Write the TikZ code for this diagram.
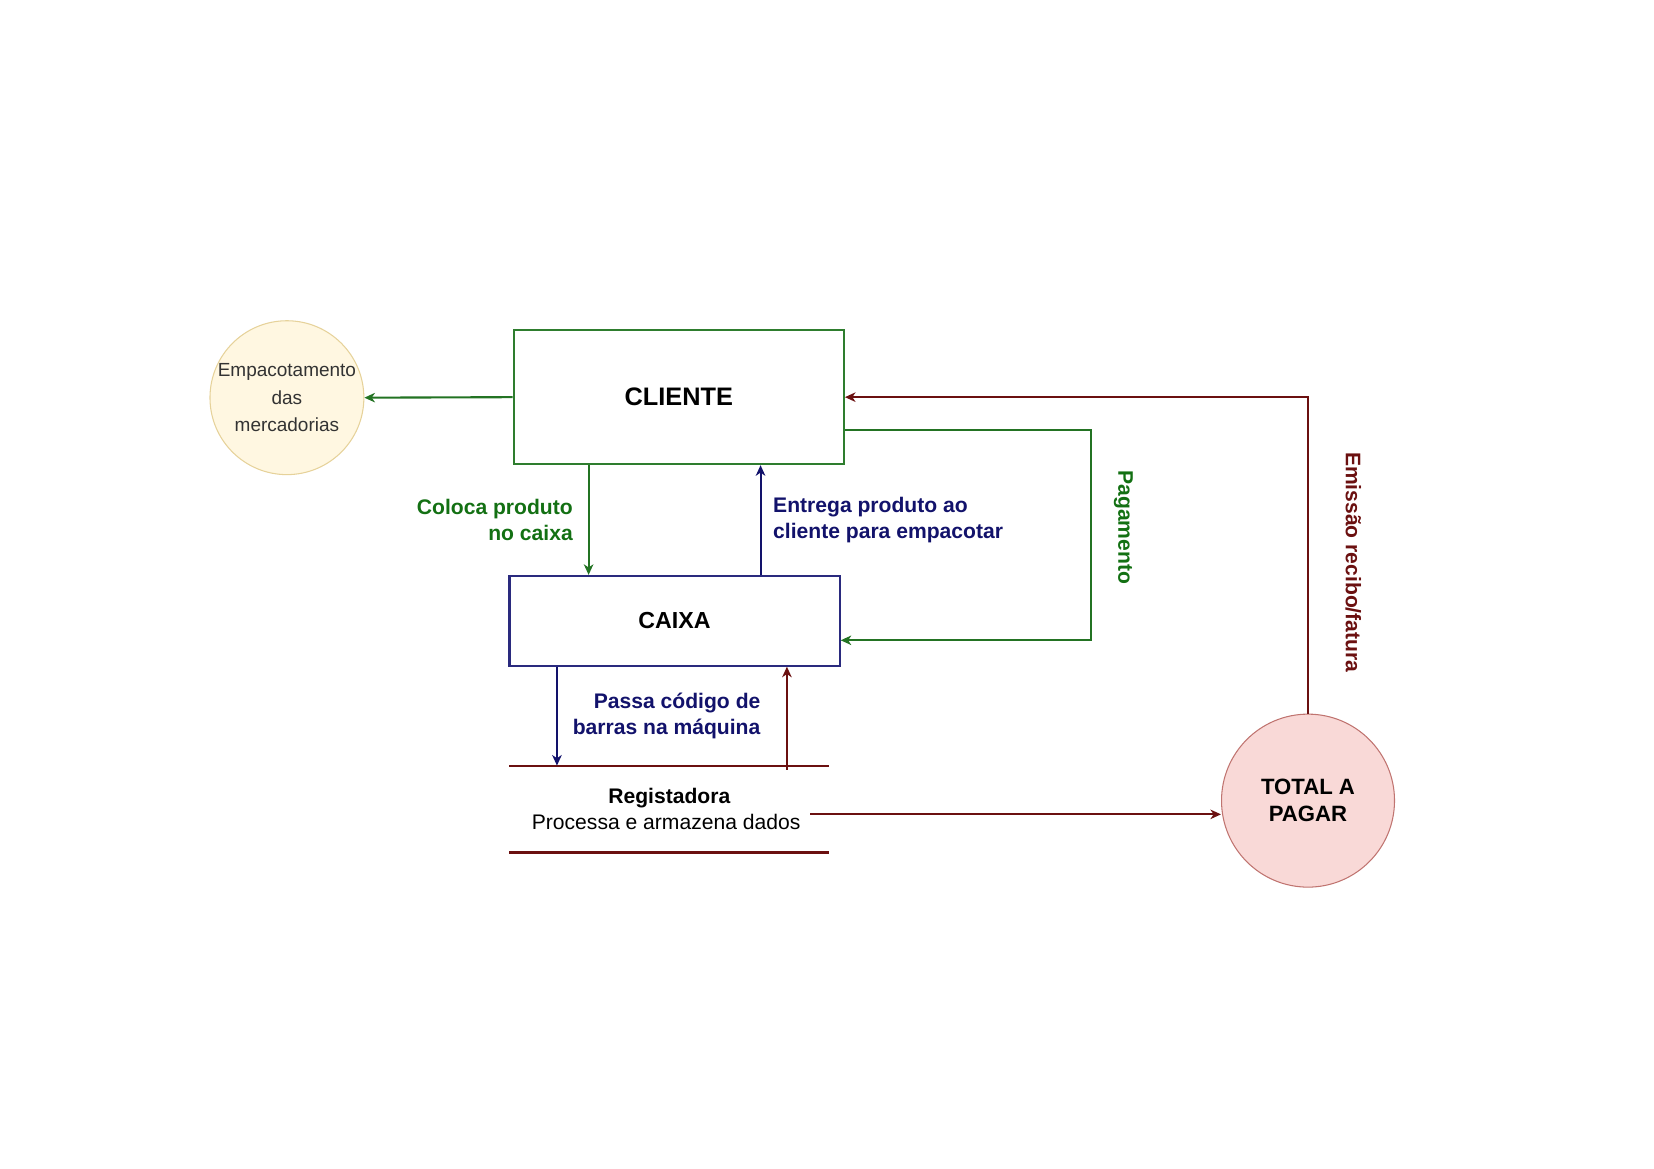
\documentclass[tikz,border=0pt]{standalone}
\usepackage{fontspec}
\setmainfont{Liberation Sans}
\usetikzlibrary{arrows.meta,positioning}
\definecolor{boxgreen}{HTML}{2E7D2E}
\definecolor{flowgreen}{HTML}{237323}
\definecolor{textgreen}{HTML}{137013}
\definecolor{boxnavy}{HTML}{2A2A7E}
\definecolor{textnavy}{HTML}{12126B}
\definecolor{darkred}{HTML}{6B1010}
\definecolor{empfill}{HTML}{FFF7E1}
\definecolor{empline}{HTML}{E6D29A}
\definecolor{emptext}{HTML}{333333}
\definecolor{totfill}{HTML}{F9D9D7}
\definecolor{totline}{HTML}{C07470}

\begin{document}
\begin{tikzpicture}[x=1pt,y=-1pt,
    box/.style={draw, line width=2pt, inner sep=0pt, minimum width=313pt},
    bubble/.style={circle, draw, line width=1pt, inner sep=0pt, align=center},
    flow/.style={line width=2pt, -{Stealth[length=10pt,width=9pt,inset=3pt]}},
    lbl/.style={inner sep=0pt, font=\fontsize{20}{25}\selectfont\bfseries}]
  \useasboundingbox (0,0) rectangle (1568,1108.2);

  \node[box, boxgreen, minimum height=127pt, text=black,
        font=\fontsize{24}{29}\selectfont\bfseries] (cliente) at (643.5,376.5) {CLIENTE};
  \node[box, boxnavy, minimum height=85pt, text=black,
        font=\fontsize{22}{26}\selectfont\bfseries] (caixa) at (639.5,588.5) {CAIXA};
  \node[bubble, fill=empfill, draw=empline, minimum size=144pt, text=emptext,
        font=\fontsize{18}{26}\selectfont] (emp) at (272,377) {Empacotamento\\das\\mercadorias};
  \node[bubble, fill=totfill, draw=totline, minimum size=164pt,
        font=\fontsize{21}{26}\selectfont\bfseries] (total) at (1240,759) {TOTAL A\\PAGAR};
  \node[minimum width=303pt, minimum height=82pt, inner sep=0pt, align=center,
        font=\fontsize{20}{25}\selectfont] (reg) at (634.5,767) {{\bfseries Registadora}\\Processa e armazena dados\hspace*{6pt}};
  \draw[darkred, line width=2pt] (reg.north west) -- (reg.north east);
  \draw[darkred, line width=2pt] (reg.south west) -- (reg.south east);

  % cliente <-> caixa
  \draw[flow, flowgreen] (cliente.west) -- (emp.east);
  \draw[flow, flowgreen] ([xshift=-81.5pt]caixa.north |- cliente.south) -- ([xshift=-81.5pt]caixa.north)
    node[midway, left=14pt, lbl, textgreen, align=right] {Coloca produto\\no caixa};
  \draw[flow, textnavy] ([xshift=81.5pt]caixa.north) -- ([xshift=81.5pt]caixa.north |- cliente.south)
    node[midway, right=11pt, lbl, textnavy, align=left] {Entrega produto ao\\cliente para empacotar};
  \draw[flow, flowgreen] ([yshift=-31.5pt]cliente.east) -- ++(233,0) |- ([yshift=-18.5pt]caixa.east);
  \node[lbl, textgreen, rotate=-90] (paglbl) at (1065,500) {Pagamento};

  % caixa <-> registadora
  \draw[flow, textnavy] ([xshift=-111.5pt]caixa.south) -- ([xshift=-111.5pt]caixa.south |- reg.north)
    node[midway, right=14pt, lbl, textnavy, align=right] {Passa código de\\barras na máquina};
  \draw[flow, darkred] ([xshift=106.5pt,yshift=-4pt]reg.north -| caixa.south) -- ([xshift=106.5pt]caixa.south);

  % registadora -> total -> cliente
  \coordinate (regout) at ([xshift=-18pt,yshift=-5pt]reg.east);
  \draw[flow, darkred] (regout) -- (regout -| total.west);
  \draw[flow, darkred] (total.north) |- (cliente.east);
  \node[lbl, darkred, rotate=-90] (emilbl) at (1283,533) {Emissão recibo/fatura};
\end{tikzpicture}
\end{document}
